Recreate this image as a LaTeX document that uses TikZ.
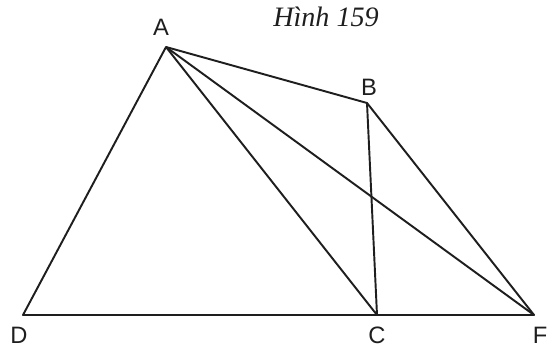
\documentclass[tikz,border=0pt]{standalone}
\usepackage{fontspec}
\setmainfont{Liberation Serif}
\newfontfamily\lblfont{Liberation Sans}
\usetikzlibrary{positioning}
\definecolor{ink}{RGB}{30,30,30}
\tikzset{
  seg/.style={draw=ink,line width=1.1pt,line join=round},
  vlabel/.style={font=\lblfont\fontsize{13.5}{13.5}\selectfont,text=ink,inner sep=1pt},
  caption/.style={font=\itshape\fontsize{16}{16}\selectfont,text=ink},
}
\begin{document}
\begin{tikzpicture}[x=0.02cm,y=-0.02cm]
  \useasboundingbox (0,0) rectangle (550,350);
  % vertices
  \coordinate (A) at (166,47);
  \coordinate (B) at (367,103);
  \coordinate (C) at (377,315);
  \coordinate (D) at (23,315);
  \coordinate (F) at (534,315);
  % sides and diagonals
  \draw[seg] (D) -- (A) -- (B) -- (F) -- cycle;
  \draw[seg] (A) -- (C) -- (B);
  \draw[seg] (A) -- (F);
  % labels
  \node[vlabel] (la) at (161,27) {A};
  \node[vlabel] (lb) at (369,87) {B};
  \node[vlabel] (ld) at (19,335) {D};
  \node[vlabel] (lc) at (377,335) {C};
  \node[vlabel] (lf) at (540,335) {F};
  \node[caption] (fig) at (326,17) {Hình 159};
\end{tikzpicture}
\end{document}
